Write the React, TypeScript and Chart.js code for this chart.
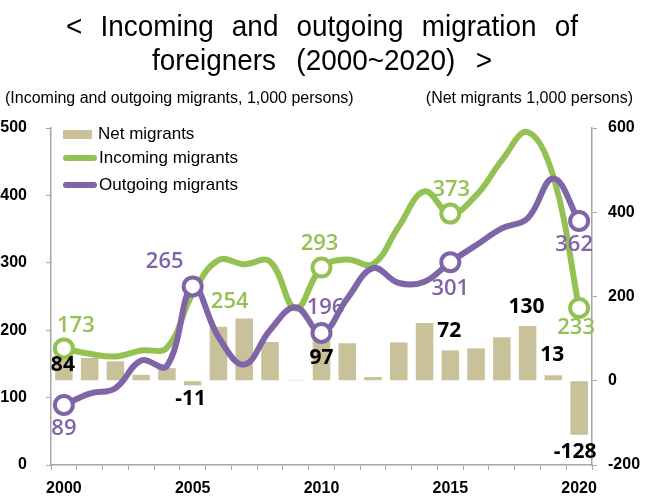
import React, { useEffect, useRef } from 'react';
import { Chart, registerables } from 'chart.js';

Chart.register(...registerables);

// ---------------- data ----------------
const years = ['2000', '2001', '2002', '2003', '2004', '2005', '2006', '2007', '2008', '2009', '2010',
  '2011', '2012', '2013', '2014', '2015', '2016', '2017', '2018', '2019', '2020'];
const netMigrants = [84, 54, 46, 14, 30, -11, 128, 148, 92, 2, 97, 89, 9, 91, 137, 72, 77, 103, 130, 13, -128];
const incoming = [173, 165, 161, 170, 174, 254, 304, 298, 302, 232, 293, 305, 298, 354, 406, 373, 400, 452, 494, 428, 233];
const outgoing = [89, 106, 114, 155, 147, 265, 190, 149, 200, 234, 196, 247, 292, 270, 272, 301, 326, 351, 366, 425, 362];
const leftTicks = [0, 100, 200, 300, 400, 500];
const rightTicks = [-200, 0, 200, 400, 600];
const xLabelYears = ['2000', '2005', '2010', '2015', '2020'];
const incomingMarked = ['2000', '2010', '2015', '2020'];
const outgoingMarked = ['2000', '2005', '2010', '2015', '2020'];
const incomingLabelled = ['2000', '2005', '2010', '2015', '2020'];
const outgoingLabelled = ['2000', '2005', '2010', '2015', '2020'];
const netLabelled = ['2000', '2005', '2010', '2015', '2018', '2019', '2020'];

// label placement (pixel offsets from the mark)
const incomingOffsets: Record<string, [number, number]> = {
  '2000': [12, -23], '2005': [37, 8], '2010': [-2, -24], '2015': [1, -24], '2020': [-3, 20],
};
const outgoingOffsets: Record<string, [number, number]> = {
  '2000': [0, 24], '2005': [-28, -25], '2010': [4, -25], '2015': [0, 27], '2020': [-5, 24],
};
const netOffsets: Record<string, [number, number]> = {
  '2000': [-1, 20], '2005': [-2, 14], '2010': [0, 18], '2015': [-1, -19], '2018': [-1, -19], '2019': [-1, -20], '2020': [-4, 17],
};

const GREEN = '#93C152';
const PURPLE = '#8064A8';
const BEIGE = '#C8C19A';
const AXIS = '#A6A6A6';
const SANS = '"Liberation Sans", Arial, sans-serif';

const labelPlugin = {
  id: 'valueLabels',
  afterDatasetsDraw(chart: any) {
    const { ctx } = chart;
    const xs = chart.scales.x;
    const ys = chart.scales.y;
    const y2 = chart.scales.y2;
    ctx.save();
    ctx.textAlign = 'center';
    ctx.textBaseline = 'middle';
    ctx.font = '600 22px "Open Sans", sans-serif';
    ctx.fillStyle = GREEN;
    incomingLabelled.forEach((yr) => {
      const i = years.indexOf(yr);
      const [dx, dy] = incomingOffsets[yr];
      ctx.fillText(String(incoming[i]), xs.getPixelForValue(i) + dx, ys.getPixelForValue(incoming[i]) + dy);
    });
    ctx.fillStyle = PURPLE;
    outgoingLabelled.forEach((yr) => {
      const i = years.indexOf(yr);
      const [dx, dy] = outgoingOffsets[yr];
      ctx.fillText(String(outgoing[i]), xs.getPixelForValue(i) + dx, ys.getPixelForValue(outgoing[i]) + dy);
    });
    ctx.fillStyle = '#000';
    ctx.font = '700 21px "Noto Sans", sans-serif';
    netLabelled.forEach((yr) => {
      const i = years.indexOf(yr);
      const [dx, dy] = netOffsets[yr];
      ctx.fillText(String(netMigrants[i]), xs.getPixelForValue(i) + dx, y2.getPixelForValue(netMigrants[i]) + dy);
    });
    ctx.restore();
  },
};

export default function App() {
  const ref = useRef<HTMLCanvasElement>(null);

  useEffect(() => {
    const radii = (marked: string[]) => years.map((y) => (marked.includes(y) ? 9 : 0));
    const chart = new Chart(ref.current as HTMLCanvasElement, {
      type: 'bar',
      data: {
        labels: years,
        datasets: [
          {
            type: 'line',
            label: 'Outgoing migrants',
            data: outgoing,
            yAxisID: 'y',
            borderColor: PURPLE,
            borderWidth: 6,
            tension: 0.4,
            pointRadius: radii(outgoingMarked),
            pointHoverRadius: radii(outgoingMarked),
            pointBackgroundColor: '#fff',
            pointBorderColor: PURPLE,
            pointBorderWidth: 4,
            order: 0,
          } as any,
          {
            type: 'line',
            label: 'Incoming migrants',
            data: incoming,
            yAxisID: 'y',
            borderColor: GREEN,
            borderWidth: 6,
            tension: 0.4,
            pointRadius: radii(incomingMarked),
            pointHoverRadius: radii(incomingMarked),
            pointBackgroundColor: '#fff',
            pointBorderColor: GREEN,
            pointBorderWidth: 4,
            order: 1,
          } as any,
          {
            type: 'bar',
            label: 'Net migrants',
            data: netMigrants,
            yAxisID: 'y2',
            backgroundColor: BEIGE,
            borderWidth: 0,
            categoryPercentage: 1,
            barPercentage: 0.68,
            order: 2,
          } as any,
        ],
      },
      options: {
        animation: false,
        responsive: false,
        devicePixelRatio: 1,
        layout: { padding: { top: 128, left: 0, right: 0, bottom: 0 } },
        plugins: {
          legend: { display: false },
          title: { display: false },
          tooltip: { enabled: false },
        },
        scales: {
          x: {
            type: 'category',
            offset: true,
            grid: { display: true, drawOnChartArea: false, drawTicks: true, tickLength: 5, color: AXIS, offset: true },
            border: { display: true, color: AXIS, width: 1.5 },
            ticks: {
              autoSkip: false,
              maxRotation: 0,
              padding: 9,
              color: '#000',
              font: { family: SANS, size: 16, weight: 'bold' },
              callback: function (this: any, value: any) {
                const lbl = this.getLabelForValue(value);
                return xLabelYears.includes(lbl) ? lbl : '';
              },
            },
            afterFit: (s: any) => { s.height = 31; },
          },
          y: {
            type: 'linear',
            position: 'left',
            min: leftTicks[0],
            max: leftTicks[leftTicks.length - 1],
            grid: { display: true, drawOnChartArea: false, drawTicks: true, tickLength: 5, color: AXIS },
            border: { display: true, color: AXIS, width: 1.5 },
            ticks: {
              stepSize: 100,
              padding: 19,
              color: '#000',
              font: { family: SANS, size: 16, weight: 'bold' },
            },
            afterFit: (s: any) => { s.width = 51; },
          },
          y2: {
            type: 'linear',
            position: 'right',
            min: rightTicks[0],
            max: rightTicks[rightTicks.length - 1],
            grid: { display: true, drawOnChartArea: false, drawTicks: true, tickLength: 5, color: AXIS },
            border: { display: true, color: AXIS, width: 1.5 },
            ticks: {
              stepSize: 200,
              padding: 11,
              color: '#000',
              font: { family: SANS, size: 16, weight: 'bold' },
            },
            afterFit: (s: any) => { s.width = 55; },
          },
        },
      },
      plugins: [labelPlugin],
    } as any);
    return () => chart.destroy();
  }, []);

  const SX = 0.93;
  const titleLine: React.CSSProperties = {
    position: 'absolute',
    fontFamily: SANS,
    fontSize: 30,
    lineHeight: '30px',
    color: '#000',
    transform: `scaleX(${SX})`,
    transformOrigin: 'left top',
    textAlign: 'justify',
    textAlignLast: 'justify' as any,
    margin: 0,
  };
  const small: React.CSSProperties = {
    position: 'absolute',
    fontFamily: SANS,
    fontSize: 16,
    lineHeight: '16px',
    color: '#000',
    whiteSpace: 'nowrap',
  };
  const legText: React.CSSProperties = {
    position: 'absolute',
    fontFamily: SANS,
    fontSize: 17,
    lineHeight: '17px',
    color: '#000',
    whiteSpace: 'nowrap',
  };

  return (
    <div style={{ position: 'absolute', left: 0, top: 0, width: 647, height: 496, background: '#fff', overflow: 'hidden' }}>
      <canvas ref={ref} width={647} height={496} style={{ position: 'absolute', left: 0, top: 0 }} />
      <div style={{ ...titleLine, left: 66, top: 11, width: 512 / SX }}>&lt; Incoming and outgoing migration of</div>
      <div style={{ ...titleLine, left: 152, top: 45, width: 340 / SX }}>foreigners (2000~2020) &gt;</div>
      <div style={{ ...small, left: 5, top: 90 }}>(Incoming and outgoing migrants, 1,000 persons)</div>
      <div style={{ ...small, right: 14, top: 90 }}>(Net migrants 1,000 persons)</div>
      {/* legend */}
      <div style={{ position: 'absolute', left: 63, top: 130, width: 29, height: 9, background: BEIGE }} />
      <div style={{ ...legText, left: 98, top: 125 }}>Net migrants</div>
      <div style={{ position: 'absolute', left: 63, top: 155, width: 34, height: 6, borderRadius: 3, background: GREEN }} />
      <div style={{ ...legText, left: 99, top: 149 }}>Incoming migrants</div>
      <div style={{ position: 'absolute', left: 63, top: 182, width: 34, height: 6, borderRadius: 3, background: PURPLE }} />
      <div style={{ ...legText, left: 99, top: 176 }}>Outgoing migrants</div>
    </div>
  );
}
